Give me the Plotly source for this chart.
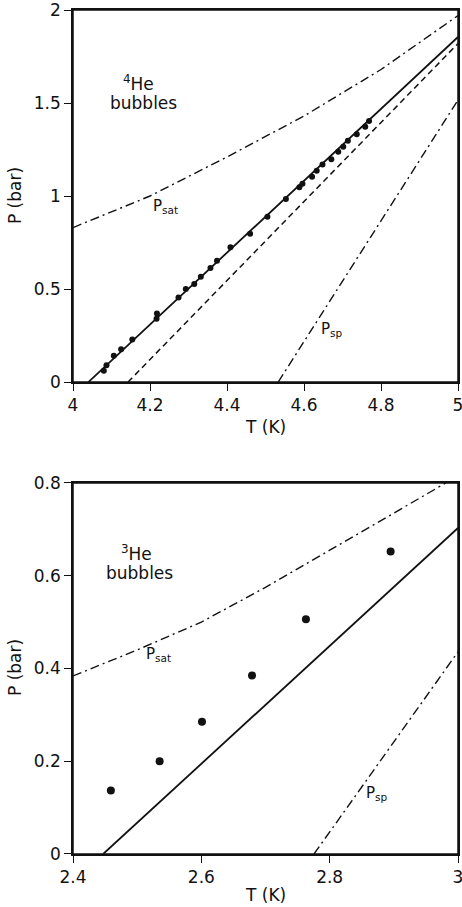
import plotly.graph_objects as go

# ---------- 4He panel data ----------
he4_T_pts = [4.080, 4.087, 4.106, 4.125, 4.154, 4.217, 4.218, 4.274, 4.293, 4.315,
             4.332, 4.357, 4.374, 4.409, 4.460, 4.505, 4.553, 4.588, 4.596, 4.621,
             4.633, 4.648, 4.671, 4.689, 4.702, 4.714, 4.737, 4.759, 4.769]
he4_P_pts = [0.061, 0.090, 0.141, 0.176, 0.229, 0.340, 0.369, 0.455, 0.500, 0.527,
             0.566, 0.613, 0.652, 0.724, 0.797, 0.889, 0.984, 1.047, 1.066, 1.104,
             1.136, 1.170, 1.197, 1.238, 1.265, 1.297, 1.332, 1.373, 1.403]
he4_fit_T = [4.04, 5.0]
he4_fit_P = [0.0, 1.855]
he4_dash_T = [4.143, 5.0]
he4_dash_P = [0.0, 1.82]
he4_sat_T = [4.0, 4.2, 4.4, 4.6, 4.8, 5.0]
he4_sat_P = [0.83, 1.00, 1.21, 1.43, 1.68, 1.97]
he4_sp_T = [4.533, 5.0]
he4_sp_P = [0.0, 1.516]
he4_xticks = [4, 4.2, 4.4, 4.6, 4.8, 5]
he4_xtext = ["4", "4.2", "4.4", "4.6", "4.8", "5"]
he4_yticks = [0, 0.5, 1, 1.5, 2]
he4_ytext = ["0", "0.5", "1", "1.5", "2"]

# ---------- 3He panel data ----------
he3_T_pts = [2.459, 2.535, 2.601, 2.679, 2.763, 2.895]
he3_P_pts = [0.137, 0.200, 0.285, 0.385, 0.506, 0.652]
he3_fit_T = [2.447, 3.0]
he3_fit_P = [0.0, 0.703]
he3_sat_T = [2.4, 2.5, 2.6, 2.7, 2.8, 2.9, 2.981]
he3_sat_P = [0.384, 0.44, 0.50, 0.575, 0.655, 0.735, 0.80]
he3_sp_T = [2.7756, 3.0]
he3_sp_P = [0.0, 0.436]
he3_xticks = [2.4, 2.6, 2.8, 3.0]
he3_xtext = ["2.4", "2.6", "2.8", "3"]
he3_yticks = [0, 0.2, 0.4, 0.6, 0.8]
he3_ytext = ["0", "0.2", "0.4", "0.6", "0.8"]

INK = "#111111"
FONT = "DejaVu Sans"
DASHDOT = "9px,4px,2px,4px"

fig = go.Figure()

def line(x, y, xa, ya, dash="solid", w=1.6):
    fig.add_trace(go.Scatter(x=x, y=y, mode="lines", xaxis=xa, yaxis=ya,
                             line=dict(color=INK, width=w, dash=dash),
                             showlegend=False, hoverinfo="skip"))

# top panel
line(he4_sat_T, he4_sat_P, "x", "y", DASHDOT, 1.4)
line(he4_sp_T, he4_sp_P, "x", "y", DASHDOT, 1.4)
line(he4_dash_T, he4_dash_P, "x", "y", "6px,4px", 1.5)
line(he4_fit_T, he4_fit_P, "x", "y", "solid", 1.8)
fig.add_trace(go.Scatter(x=he4_T_pts, y=he4_P_pts, mode="markers", xaxis="x", yaxis="y",
                         marker=dict(color=INK, size=6), showlegend=False))

# bottom panel
line(he3_sat_T, he3_sat_P, "x2", "y2", DASHDOT, 1.4)
line(he3_sp_T, he3_sp_P, "x2", "y2", DASHDOT, 1.4)
line(he3_fit_T, he3_fit_P, "x2", "y2", "solid", 1.8)
fig.add_trace(go.Scatter(x=he3_T_pts, y=he3_P_pts, mode="markers", xaxis="x2", yaxis="y2",
                         marker=dict(color=INK, size=8), showlegend=False))

axis_common = dict(showline=True, linecolor=INK, linewidth=1.5, mirror=True,
                   ticks="outside", ticklen=7, tickwidth=1.3, tickcolor=INK,
                   showgrid=False, zeroline=False, automargin=False,
                   ticklabeloverflow="allow",
                   tickfont=dict(family=FONT, size=17, color=INK))

fig.update_layout(
    width=462, height=907,
    margin=dict(l=73, r=4, t=10, b=53),
    paper_bgcolor="white", plot_bgcolor="white",
    xaxis=dict(domain=[0, 1], anchor="y", range=[4, 5], tickmode="array",
               tickvals=he4_xticks, ticktext=he4_xtext, **axis_common),
    yaxis=dict(domain=[0.5592, 1.0], anchor="x", range=[0, 2], tickmode="array",
               tickvals=he4_yticks, ticktext=he4_ytext, **axis_common),
    xaxis2=dict(domain=[0, 1], anchor="y2", range=[2.4, 3.0], tickmode="array",
                tickvals=he3_xticks, ticktext=he3_xtext, **axis_common),
    yaxis2=dict(domain=[0.0, 0.4396], anchor="x2", range=[0, 0.8], tickmode="array",
                tickvals=he3_yticks, ticktext=he3_ytext, **axis_common),
)

# frames around both panels (drawn above plot area)
for xr, yr in (("x domain", "y domain"), ("x2 domain", "y2 domain")):
    fig.add_shape(type="rect", xref=xr, yref=yr, x0=0, x1=1, y0=0, y1=1,
                  line=dict(color=INK, width=1.5), layer="above")

def ann(text, x, y, xref, yref, size=17, angle=0):
    fig.add_annotation(text=text, x=x, y=y, xref=xref, yref=yref, showarrow=False,
                       textangle=angle, xanchor="center", yanchor="middle",
                       font=dict(family=FONT, size=size, color=INK))

# axis titles
ann("P (bar)", -0.1506, 0.7796, "paper", "paper", 17, -90)
ann("P (bar)", -0.1506, 0.2204, "paper", "paper", 17, -90)
ann("T (K)", 0.5, 0.5059, "paper", "paper", 17)
ann("T (K)", 0.5, -0.0486, "paper", "paper", 17)

# in-plot labels
ann("<sup>4</sup>He", 4.169, 1.608, "x", "y", 17)
ann("bubbles", 4.182, 1.50, "x", "y", 17)
ann("P<sub>sat</sub>", 4.239, 0.945, "x", "y", 15)
ann("P<sub>sp</sub>", 4.673, 0.285, "x", "y", 15)

ann("<sup>3</sup>He", 2.499, 0.649, "x2", "y2", 17)
ann("bubbles", 2.503, 0.606, "x2", "y2", 17)
ann("P<sub>sat</sub>", 2.534, 0.43, "x2", "y2", 15)
ann("P<sub>sp</sub>", 2.874, 0.13, "x2", "y2", 15)

fig.write_html("out.html")
